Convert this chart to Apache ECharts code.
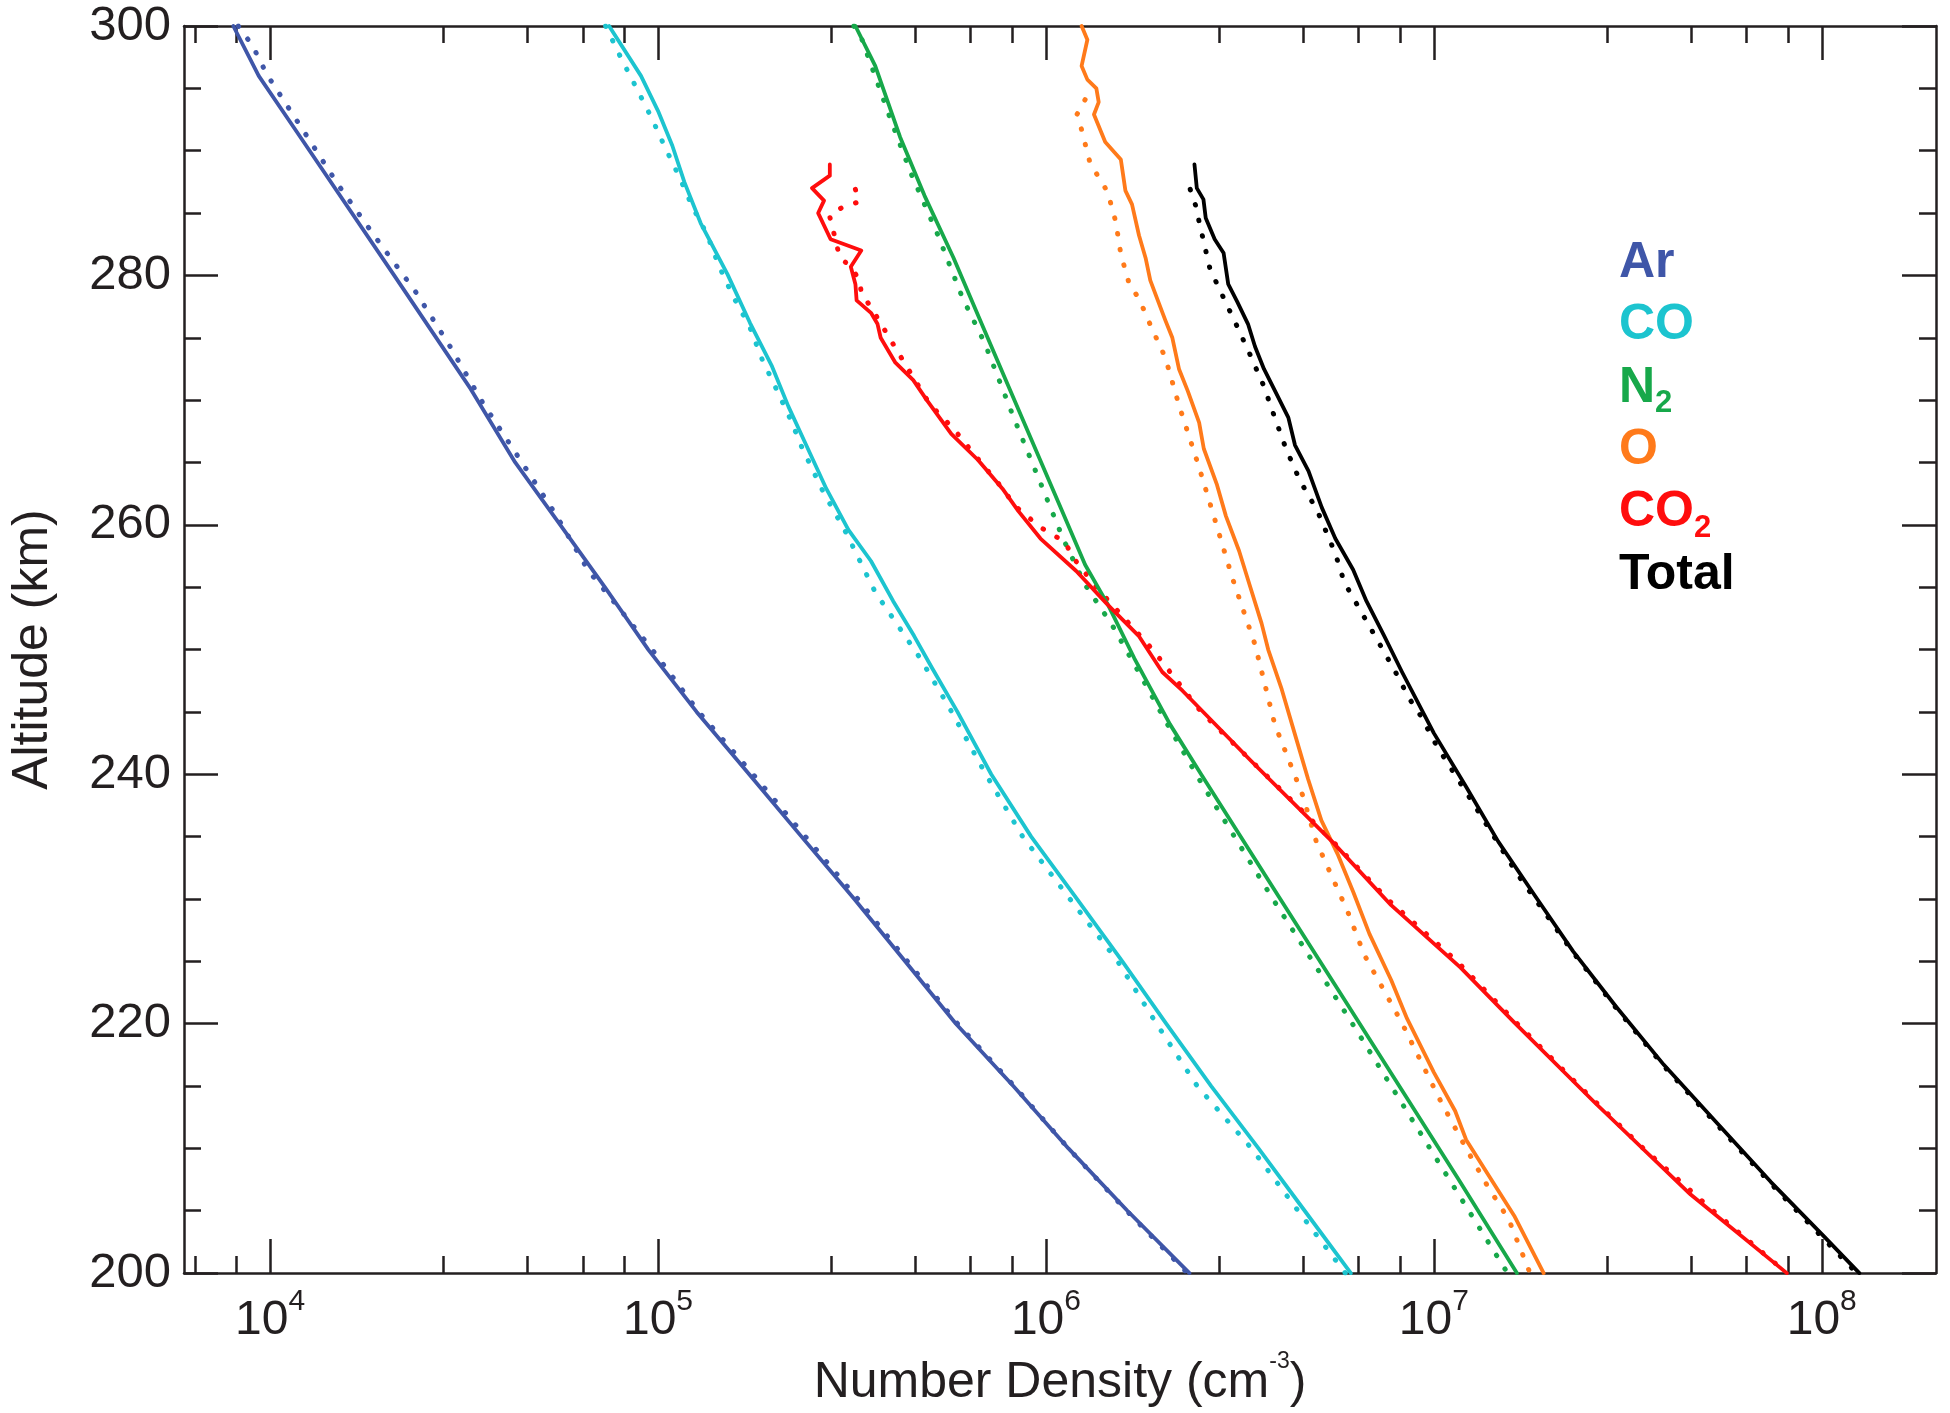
<!DOCTYPE html>
<html><head><meta charset="utf-8">
<script src="https://cdn.jsdelivr.net/npm/echarts@6/dist/echarts.min.js"></script>
<style>html,body{margin:0;padding:0;background:#fff}#c{width:1950px;height:1413px}</style>
</head><body><div id="c"></div><script>
// ---- tick values ----
const xMajorTicks = [1e4, 1e5, 1e6, 1e7, 1e8];
const xMinorTicks = [6.4e3, 8.2e3, 2.8e4, 4.6e4, 6.4e4, 8.2e4, 2.8e5, 4.6e5, 6.4e5, 8.2e5,
  2.8e6, 4.6e6, 6.4e6, 8.2e6, 2.8e7, 4.6e7, 6.4e7, 8.2e7];
const yTickLabels = [200, 220, 240, 260, 280, 300];

// ---- Ar ----
const arAlt = [300, 296, 291.7, 280, 270.9, 265, 260, 255, 250, 245, 240, 235, 230, 225, 220, 215, 210, 205, 200];
const arDen = [8.04e3, 9.35e3, 1.161e4, 2.089e4, 3.289e4, 4.285e4, 5.598e4, 7.295e4, 9.44e4, 1.258e5, 1.718e5, 2.344e5, 3.206e5, 4.335e5, 5.861e5, 8.24e5, 1.143e6, 1.622e6, 2.344e6];
const arModAlt = [300, 298.4, 296.1, 291.6, 287.3, 283, 278.7, 274.3, 269.8, 265.3, 260.8, 256.3, 254.3, 250, 245, 240, 235, 230, 225, 220, 215, 210, 205, 200];
const arModDen = [8.28e3, 9.02e3, 9.82e3, 1.219e4, 1.496e4, 1.875e4, 2.371e4, 2.911e4, 3.532e4, 4.395e4, 5.458e4, 6.622e4, 7.482e4, 9.66e4, 1.274e5, 1.758e5, 2.399e5, 3.273e5, 4.395e5, 5.916e5, 8.28e5, 1.143e6, 1.614e6, 2.317e6];

// ---- CO ----
const coAlt = [300, 296, 293.2, 290.4, 287.5, 284.2, 280.1, 276.2, 272.7, 269.5, 266.8, 262.9, 259.6, 257.1, 253.9, 251.1, 248.6, 245, 240, 235, 230, 225, 220, 215, 210, 205, 200];
const coDen = [7.48e4, 9.04e4, 1.0e5, 1.089e5, 1.169e5, 1.288e5, 1.51e5, 1.726e5, 1.968e5, 2.168e5, 2.377e5, 2.716e5, 3.097e5, 3.54e5, 4.036e5, 4.571e5, 5.07e5, 5.916e5, 7.228e5, 9.162e5, 1.202e6, 1.574e6, 2.042e6, 2.667e6, 3.532e6, 4.645e6, 6.109e6];
const coModAlt = [300, 297.4, 295, 292.6, 290.4, 287.9, 285.5, 283.3, 280.7, 278.3, 275.9, 273.3, 270.9, 268.5, 266.2, 262.7, 259.3, 254.6, 249.3, 245.4, 240, 235, 230, 225, 220, 215, 210, 205, 200];
const coModDen = [7.33e4, 8.04e4, 8.81e4, 9.64e4, 1.038e5, 1.135e5, 1.227e5, 1.337e5, 1.439e5, 1.563e5, 1.722e5, 1.854e5, 2.018e5, 2.193e5, 2.35e5, 2.661e5, 3.062e5, 3.631e5, 4.742e5, 5.623e5, 6.998e5, 8.71e5, 1.153e6, 1.531e6, 1.928e6, 2.455e6, 3.388e6, 4.467e6, 5.916e6];

// ---- N2 ----
const n2Alt = [300, 296.8, 291.1, 286.4, 281.4, 276.8, 271.8, 266.8, 261.4, 256.8, 253.6, 249.3, 244, 240, 230.2, 222.1, 214.7, 207.6, 200];
const n2Den = [3.228e5, 3.631e5, 4.207e5, 4.864e5, 5.781e5, 6.683e5, 7.834e5, 9.183e5, 1.091e6, 1.262e6, 1.445e6, 1.69e6, 2.089e6, 2.512e6, 3.981e6, 5.834e6, 8.26e6, 1.153e7, 1.637e7];
const n2ModAlt = [300, 298.9, 292.9, 288.2, 283.2, 278.2, 274.6, 268.6, 262.9, 258.9, 255.2, 252, 248.2, 244.3, 239.6, 230, 220, 210, 200];
const n2ModDen = [3.199e5, 3.357e5, 3.936e5, 4.487e5, 5.272e5, 6.095e5, 6.95e5, 8.26e5, 9.817e5, 1.107e6, 1.262e6, 1.479e6, 1.734e6, 2.032e6, 2.483e6, 3.846e6, 6.166e6, 9.772e6, 1.549e7];

// ---- O ----
const oAlt = [300, 298.9, 296.8, 295.7, 295, 293.9, 292.9, 290.7, 289.3, 286.8, 285.7, 283.2, 281.4, 279.6, 278.2, 276.4, 275, 272.5, 270.7, 268.2, 266.1, 263.2, 260.7, 257.9, 255, 252.1, 250, 246.8, 243.3, 239.6, 236.3, 233.6, 230.5, 227.2, 223.5, 220.4, 216.1, 213, 210.7, 207.3, 204.6, 200];
const oDen = [1.236e6, 1.279e6, 1.236e6, 1.279e6, 1.349e6, 1.368e6, 1.33e6, 1.422e6, 1.56e6, 1.603e6, 1.667e6, 1.738e6, 1.807e6, 1.858e6, 1.932e6, 2.032e6, 2.118e6, 2.203e6, 2.323e6, 2.483e6, 2.553e6, 2.761e6, 2.911e6, 3.148e6, 3.365e6, 3.597e6, 3.741e6, 4.055e6, 4.375e6, 4.742e6, 5.129e6, 5.649e6, 6.209e6, 6.823e6, 7.762e6, 8.531e6, 1.0e7, 1.135e7, 1.211e7, 1.419e7, 1.611e7, 1.919e7];
const oModAlt = [294.1, 292.9, 291.8, 289, 286.7, 284.3, 281.7, 279.2, 278.2, 275.7, 273.4, 269.6, 264.6, 261.1, 255.7, 250.4, 244, 238.3, 234.6, 228.9, 225.5, 220.1, 214, 210, 207, 204.3, 200];
const oModDen = [1.262e6, 1.202e6, 1.233e6, 1.3e6, 1.442e6, 1.514e6, 1.56e6, 1.644e6, 1.734e6, 1.879e6, 2.032e6, 2.203e6, 2.483e6, 2.685e6, 3.027e6, 3.459e6, 3.89e6, 4.592e6, 4.977e6, 6.012e6, 6.622e6, 8.26e6, 1.033e7, 1.211e7, 1.374e7, 1.56e7, 1.77e7];

// ---- CO2 ----
const co2Alt = [288.9, 288.0, 287.0, 286.0, 285.0, 282.9, 282.0, 280.7, 279.3, 278.0, 277.0, 276.1, 275.0, 273.0, 271.6, 270.0, 267.3, 265.2, 262.9, 261.1, 258.9, 256.3, 253.6, 251.1, 248.2, 246.7, 241.0, 234.6, 229.5, 224.5, 220.1, 213.7, 206.3, 200];
const co2Den = [2.773e5, 2.773e5, 2.495e5, 2.679e5, 2.588e5, 2.786e5, 3.342e5, 3.141e5, 3.228e5, 3.251e5, 3.54e5, 3.681e5, 3.75e5, 4.093e5, 4.55e5, 4.932e5, 5.702e5, 6.683e5, 7.727e5, 8.492e5, 9.683e5, 1.197e6, 1.442e6, 1.734e6, 1.995e6, 2.249e6, 3.396e6, 5.47e6, 7.762e6, 1.172e7, 1.611e7, 2.594e7, 4.592e7, 8.128e7];
const co2ModAlt = [286.9, 285.9, 285.5, 284.8, 283.7, 281.5, 280.6, 279.6, 278.6, 277.3, 273.0, 269.7, 267.7, 265.7, 262.7, 261.6, 259.8, 258.6, 257.5, 255, 250, 245, 240, 235, 230, 225, 220, 215, 210, 205, 200];
const co2ModDen = [3.228e5, 3.296e5, 2.999e5, 2.767e5, 2.825e5, 2.938e5, 3.155e5, 3.311e5, 3.342e5, 3.565e5, 4.315e5, 5.012e5, 5.781e5, 6.516e5, 7.834e5, 8.26e5, 9.683e5, 1.122e6, 1.167e6, 1.349e6, 1.884e6, 2.512e6, 3.673e6, 5.346e6, 7.586e6, 1.148e7, 1.641e7, 2.371e7, 3.467e7, 5.248e7, 8.128e7];

// ---- Total ----
const totAlt = [288.9, 287, 286.1, 284.6, 282.9, 281.8, 279.3, 277.9, 276.1, 274.3, 272.5, 270.4, 268.6, 266.4, 264.3, 261.4, 258.9, 256.4, 253.9, 251.1, 248.2, 243.3, 239, 234.6, 230.2, 225.8, 221.4, 216.7, 212, 207.3, 202.9, 200];
const totDen = [2.415e6, 2.449e6, 2.547e6, 2.582e6, 2.723e6, 2.871e6, 2.951e6, 3.112e6, 3.319e6, 3.459e6, 3.648e6, 3.945e6, 4.217e6, 4.385e6, 4.753e6, 5.14e6, 5.572e6, 6.194e6, 6.699e6, 7.447e6, 8.279e6, 1.0e7, 1.211e7, 1.466e7, 1.828e7, 2.286e7, 2.944e7, 3.917e7, 5.383e7, 7.396e7, 1.016e8, 1.25e8];
const totModAlt = [286.9, 285.5, 284.3, 280.5, 278.2, 275.9, 273.6, 271.1, 268.6, 266.1, 263.6, 261.1, 257.7, 255.4, 252.9, 250.4, 248.2, 246.1, 244.7, 242.3, 237.9, 232, 225.8, 221.4, 216.7, 212, 207.3, 202.9, 200];
const totModDen = [2.355e6, 2.438e6, 2.483e6, 2.649e6, 2.871e6, 3.112e6, 3.365e6, 3.648e6, 3.89e6, 4.159e6, 4.508e6, 5.012e6, 5.572e6, 5.875e6, 6.531e6, 7.261e6, 7.962e6, 8.63e6, 9.247e6, 1.016e7, 1.25e7, 1.641e7, 2.275e7, 2.924e7, 3.89e7, 5.333e7, 7.328e7, 1.0e8, 1.23e8];

// ---- styling ----
const FONT = "'Liberation Sans', Arial, Helvetica, sans-serif";
const AX = '#231f20';
const C = { ar: '#3f56a8', co: '#1cc4cf', n2: '#17a84a', o: '#ff7a1a', co2: '#ff0d0d', tot: '#000000' };

function mk(name, alt, den, color, dotted) {
  return {
    type: 'line', name: name, xAxisIndex: 0, yAxisIndex: 0,
    data: den.map((d, i) => [d, alt[i]]),
    symbol: 'none', showSymbol: false, silent: true, animation: false,
    z: dotted ? 2 : 3,
    lineStyle: dotted
      ? { color: color, width: 5, type: [0.5, 15.5], cap: 'round' }
      : { color: color, width: 3.8, cap: 'round', join: 'round' }
  };
}

const tickLine = { color: AX, width: 2.5 };
function xAx(pos, ticks, len, withLabels, withLine) {
  const ax = {
    type: 'log', logBase: 10, min: 6000, max: 1.97e8, position: pos,
    axisLine: { show: withLine, onZero: false, lineStyle: { color: AX, width: 2.5 } },
    axisTick: { show: true, inside: true, length: len, lineStyle: tickLine, customValues: ticks },
    minorTick: { show: false }, splitLine: { show: false },
    axisLabel: { show: false }
  };
  if (withLabels) {
    ax.axisLabel = {
      show: true, customValues: xMajorTicks, margin: 14,
      formatter: v => '{b|10}{s|' + Math.round(Math.log10(v)) + '}',
      rich: {
        b: { fontSize: 48, lineHeight: 58, verticalAlign: 'bottom', color: AX, fontFamily: FONT },
        s: { fontSize: 30, lineHeight: 30, verticalAlign: 'top', color: AX, fontFamily: FONT }
      }
    };
    ax.name = '{t|Number Density (cm}{s|-3}{t|)}';
    ax.nameLocation = 'middle';
    ax.nameGap = 64;
    ax.nameTextStyle = {
      rich: {
        t: { fontSize: 50, lineHeight: 58, verticalAlign: 'bottom', color: AX, fontFamily: FONT },
        s: { fontSize: 23, lineHeight: 46, verticalAlign: 'top', color: AX, fontFamily: FONT }
      }
    };
  }
  return ax;
}
function yAx(pos, withLabels) {
  const ax = {
    type: 'value', min: 200, max: 300, interval: 20, position: pos,
    axisLine: { show: true, onZero: false, lineStyle: { color: AX, width: 2.5 } },
    axisTick: { show: true, inside: true, length: 34, lineStyle: tickLine },
    minorTick: { show: true, splitNumber: 4, length: 17, lineStyle: tickLine },
    splitLine: { show: false },
    axisLabel: { show: false }
  };
  if (withLabels) {
    ax.axisLabel = {
      show: true, margin: 13, fontSize: 49, color: AX, fontFamily: FONT,
      customValues: yTickLabels
    };
    ax.name = 'Altitude (km)';
    ax.nameLocation = 'middle';
    ax.nameGap = 126;
    ax.nameTextStyle = { fontSize: 50, color: AX, fontFamily: FONT };
  }
  return ax;
}

const legendText = '{ar|Ar}\n{co|CO}\n{n2|N}{n2s|2}\n{o|O}\n{co2|CO}{co2s|2}\n{tot|Total}';
function lg(color) { return { fontSize: 50, fontWeight: 'bold', lineHeight: 62.4, fill: color, fontFamily: FONT }; }
function lgs(color) { return { fontSize: 31, fontWeight: 'bold', lineHeight: 31, verticalAlign: 'bottom', fill: color, fontFamily: FONT }; }

const chart = echarts.init(document.getElementById('c'), null, { renderer: 'canvas' });
chart.setOption({
  animation: false,
  backgroundColor: '#ffffff',
  grid: { left: 181, right: 14, top: 26, bottom: 137.5, containLabel: false },
  xAxis: [
    xAx('bottom', xMajorTicks, 34, true, true),
    xAx('top', xMajorTicks, 34, false, true),
    xAx('bottom', xMinorTicks, 17, false, false),
    xAx('top', xMinorTicks, 17, false, false)
  ],
  yAxis: [yAx('left', true), yAx('right', false)],
  graphic: [{
    type: 'text', left: 1619, top: 238, silent: true,
    style: {
      text: legendText,
      rich: {
        ar: lg(C.ar), co: lg(C.co), n2: lg(C.n2), n2s: lgs(C.n2), o: lg(C.o),
        co2: lg(C.co2), co2s: lgs(C.co2), tot: lg(C.tot)
      }
    }
  }],
  series: [
    mk('Ar', arAlt, arDen, C.ar, false), mk('Ar model', arModAlt, arModDen, C.ar, true),
    mk('CO', coAlt, coDen, C.co, false), mk('CO model', coModAlt, coModDen, C.co, true),
    mk('N2', n2Alt, n2Den, C.n2, false), mk('N2 model', n2ModAlt, n2ModDen, C.n2, true),
    mk('O', oAlt, oDen, C.o, false), mk('O model', oModAlt, oModDen, C.o, true),
    mk('CO2', co2Alt, co2Den, C.co2, false), mk('CO2 model', co2ModAlt, co2ModDen, C.co2, true),
    mk('Total', totAlt, totDen, C.tot, false), mk('Total model', totModAlt, totModDen, C.tot, true)
  ]
});
</script></body></html>
